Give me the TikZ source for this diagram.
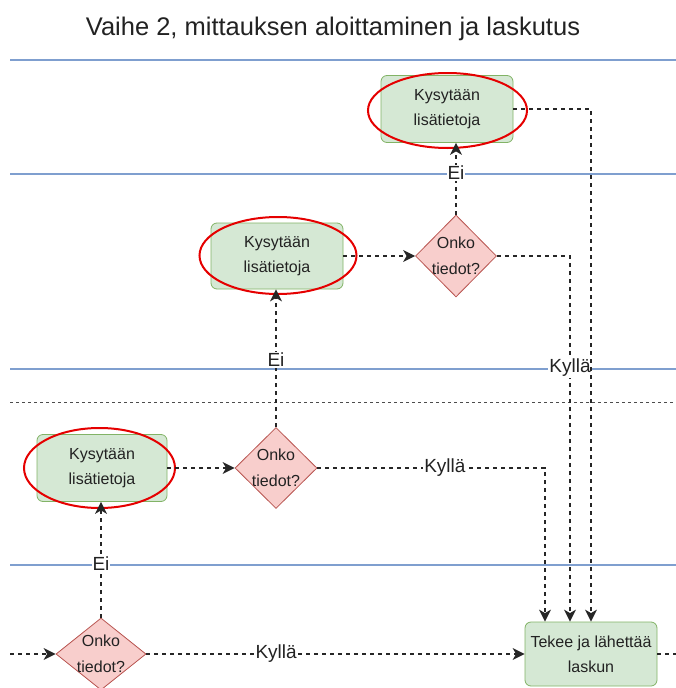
\documentclass[tikz,border=0pt]{standalone}
\usepackage{fontspec}
\setmainfont{Liberation Sans}
\usetikzlibrary{shapes.geometric,arrows.meta,calc}

\definecolor{taskfill}{HTML}{D5E8D4}
\definecolor{taskline}{HTML}{82B366}
\definecolor{askfill}{HTML}{F8CECC}
\definecolor{askline}{HTML}{B85450}
\definecolor{laneline}{HTML}{7F9FCF}
\definecolor{inktext}{HTML}{222222}

\begin{document}
\begin{tikzpicture}[x=1pt,y=-1pt,
  task/.style={rectangle, rounded corners=6pt, draw=taskline, fill=taskfill,
    line width=0.8pt, minimum width=132pt, minimum height=66pt, inner sep=0pt,
    align=center, text=inktext, font=\fontsize{16}{25}\selectfont},
  decision/.style={diamond, draw=askline, fill=askfill, line width=0.8pt,
    minimum width=82pt, minimum height=82pt, inner sep=0pt,
    align=center, text=inktext, font=\fontsize{16}{26}\selectfont},
  flow/.style={draw=black!85, line width=1.3pt, dash pattern=on 4pt off 4pt,
    -{Stealth[length=12pt,width=12pt,inset=3.5pt]}},
  plainflow/.style={draw=black!85, line width=1.3pt, dash pattern=on 4pt off 4pt},
  lbl/.style={fill=white, inner sep=1pt, text=inktext,
    font=\fontsize{19}{19}\selectfont},
  lane/.style={draw=laneline, line width=1.5pt},
  ring/.style={draw=red!90!black, line width=2pt},
]
\useasboundingbox (0,0) rectangle (676,688);

% title
\node[font=\fontsize{25.5}{26}\selectfont, text=inktext] (title) at (333,29)
  {Vaihe 2, mittauksen aloittaminen ja laskutus};

% lane separators
\foreach \yy in {60,174,369,565}
  \draw[lane] (10,\yy) -- (676,\yy);
\draw[black!70, line width=0.7pt, dash pattern=on 3pt off 3pt] (10,402) -- (676,402);

% process steps
\node[task, minimum height=67pt] (box1) at (447,109) {Kysytään\\lisätietoja};
\node[task] (box2) at (277,256) {Kysytään\\lisätietoja};
\node[task, minimum width=130pt, minimum height=67pt] (box3) at (102,468) {Kysytään\\lisätietoja};
\node[task, minimum height=64pt] (box4) at (591,654) {Tekee ja lähettää\\laskun};

% decisions
\node[decision, minimum width=81pt] (d1) at (456,256)
  {\makebox[0pt]{Onko}\\\makebox[0pt]{tiedot?}};
\node[decision, minimum height=81pt] (d2) at (276,468)
  {\makebox[0pt]{Onko}\\\makebox[0pt]{tiedot?}};
\node[decision, minimum width=90pt, minimum height=72pt] (d3) at (101,654)
  {\makebox[0pt]{Onko}\\\makebox[0pt]{tiedot?}};

% highlight rings
\draw[ring] (447.5,110.5) ellipse [x radius=79.5, y radius=37.5];
\draw[ring] (278,255.5) ellipse [x radius=78.5, y radius=38.5];
\draw[ring] (99.5,468) ellipse [x radius=75.5, y radius=40];

% connectors
\coordinate (start) at (10,654);
\coordinate (exit) at (676,654);
\draw[flow] (start) -- (d3.west);
\draw[flow] (d3.north) -- node[lbl, pos=0.47] {Ei} (d3.north |- box3.south);
\draw[flow] (d3.east) -- node[lbl, pos=0.343] {Kyllä} (box4.west);
\draw[flow] (box3.east) -- (d2.west);
\draw[flow] (d2.north) -- node[lbl, pos=0.49] {Ei} (d2.north |- box2.south);
\draw[flow] (d2.east) -| node[lbl, pos=0.28] {Kyllä} ([xshift=-46pt]box4.north);
\draw[flow] (box2.east) -- (d1.west);
\draw[flow] (d1.north) -- node[lbl, pos=0.58] {Ei} (d1.north |- box1.south);
\draw[flow] (d1.east) -| node[lbl, pos=0.653] {Kyllä} ([xshift=-21pt]box4.north);
\draw[flow] (box1.east) -| (box4.north);
\draw[plainflow] (box4.east) -- (exit);
\end{tikzpicture}
\end{document}
